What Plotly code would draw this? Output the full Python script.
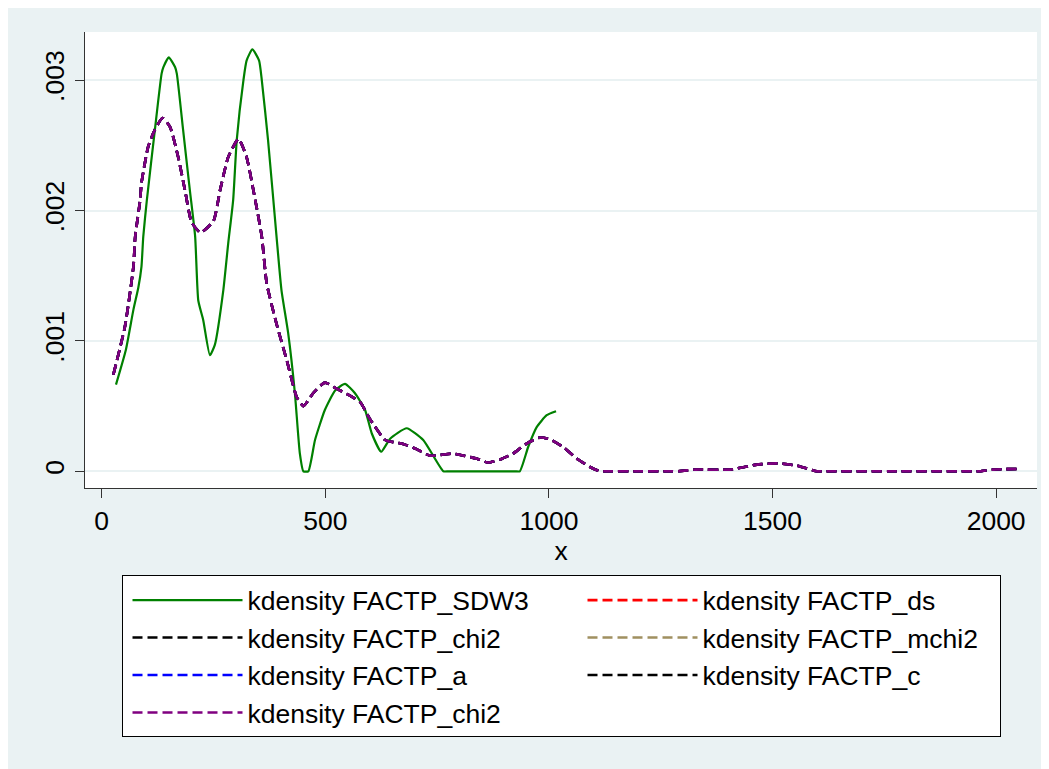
import plotly.graph_objects as go

# ---- data ----
sdw3_x = [32, 54, 71, 82, 89, 93, 101, 119, 134, 138, 150, 164, 168, 182, 197, 209, 216, 227, 242,
          253, 272, 283, 294, 302, 317, 324, 337, 352, 358, 372, 391, 402, 417, 432, 443, 451, 462,
          477, 499, 522, 544, 566, 589, 604, 625, 645, 682, 719, 764, 776, 850, 924, 935, 954, 973,
          995, 1016]
sdw3_y = [0.000665, 0.00093, 0.00124, 0.00141, 0.00157, 0.0018, 0.00208, 0.00262, 0.00305, 0.0031,
          0.003175, 0.0031, 0.00305, 0.00262, 0.00216, 0.0018, 0.00131, 0.00116, 0.00089,
          0.00097, 0.00139, 0.00175, 0.00208, 0.00254, 0.003, 0.00315, 0.003236, 0.00315, 0.003,
          0.00254, 0.0018, 0.00139, 0.00106, 0.0006, 0.00014, 0.0, 0.0,
          0.00024, 0.00047, 0.00062, 0.00067, 0.0006, 0.00047, 0.00029, 0.00015, 0.00025, 0.00033,
          0.00024, 0.0, 0.0, 0.0, 0.0, 0.0, 0.00019, 0.00034, 0.00043, 0.00046]

chi2_x = [26, 52, 71, 75, 86, 89, 104, 119, 136, 153, 171, 186, 201, 221, 250, 265, 283, 306, 324,
          339, 358, 369, 391, 414, 436, 451, 473, 499, 522, 555, 578, 600, 634, 674, 704, 734, 786,
          809, 838, 864, 891, 920, 950, 980, 1002, 1032, 1062, 1092, 1114, 1126, 1200, 1274, 1286,
          1330, 1405, 1465, 1509, 1554, 1599, 1611, 1780, 1952, 1964, 1994, 2046]
chi2_y = [0.00074, 0.00111, 0.00157, 0.0018, 0.00208, 0.00221, 0.00249, 0.00262, 0.00271, 0.00264,
          0.00241, 0.00216, 0.00191, 0.00183, 0.00192, 0.00216, 0.00241, 0.00255, 0.00241, 0.00216,
          0.0018, 0.00144, 0.00113, 0.00085, 0.00057, 0.0005, 0.0006, 0.00068, 0.00064, 0.00058,
          0.00053, 0.0004, 0.00024, 0.00021, 0.00017, 0.00012, 0.000136, 0.00012, 0.0000975,
          0.000067, 0.00009, 0.000136, 0.000213, 0.000259, 0.000246, 0.000186, 0.0000975, 0.000033,
          0.0, 0.0, 0.0, 0.0, 0.0, 0.000013, 0.000013, 0.000051, 0.000061, 0.000044, 0.0, 0.0, 0.0,
          0.0, 0.0, 0.000013, 0.000018]

# the other dashed estimates coincide with the chi2 curve
series_names = ["kdensity FACTP_SDW3", "kdensity FACTP_ds", "kdensity FACTP_chi2",
                "kdensity FACTP_mchi2", "kdensity FACTP_a", "kdensity FACTP_c",
                "kdensity FACTP_chi2"]

x_ticks = [0, 500, 1000, 1500, 2000]
x_tick_text = ["0", "500", "1000", "1500", "2000"]
y_ticks = [0, 0.001, 0.002, 0.003]
y_tick_text = ["0", ".001", ".002", ".003"]

FONT = "Liberation Sans, Arial, sans-serif"
FS = 26.5
BG = "#EAF2F3"
SM = 0.5

styles = [
    dict(color="#008000", dash="solid", width=2.2, shape="spline", smoothing=SM),
    dict(color="#FF0000", dash="10px,5px", width=2.6, shape="spline", smoothing=SM),
    dict(color="#000000", dash="10px,5px", width=2.6, shape="spline", smoothing=SM),
    dict(color="#A09060", dash="10px,5px", width=2.6, shape="spline", smoothing=SM),
    dict(color="#0000FF", dash="10px,5px", width=2.6, shape="spline", smoothing=SM),
    dict(color="#000000", dash="10px,5px", width=2.6, shape="spline", smoothing=SM),
    dict(color="#800080", dash="10px,5px", width=2.6, shape="spline", smoothing=SM),
]

fig = go.Figure()
for i, name in enumerate(series_names):
    if i == 0:
        xs, ys = sdw3_x, sdw3_y
    else:
        xs, ys = chi2_x, chi2_y
    lw = 292 if i in (1, 3, 5) else None
    fig.add_trace(go.Scatter(x=xs, y=ys, mode="lines", name=name, line=styles[i],
                             legendwidth=lw))

fig.update_layout(
    width=1041, height=761,
    margin=dict(l=77, r=12, t=24, b=281),
    paper_bgcolor=BG, plot_bgcolor="white",
    font=dict(family=FONT, size=FS, color="black"),
    showlegend=True,
    legend=dict(orientation="h", x=0.5, xanchor="center", y=-0.1916, yanchor="top",
                bgcolor="white", bordercolor="black", borderwidth=1,
                itemwidth=110, entrywidth=325, indentation=5,
                font=dict(family=FONT, size=FS), traceorder="normal"),
    xaxis=dict(range=[-37.3, 2091.4], tickvals=x_ticks, ticktext=x_tick_text,
               showgrid=False, zeroline=False, showline=True, linecolor="#333333", linewidth=1.3,
               ticks="outside", ticklen=9, tickwidth=1.3, tickcolor="#333333",
               title=dict(text="x", font=dict(family=FONT, size=FS), standoff=0),
               tickfont=dict(family=FONT, size=FS)),
    yaxis=dict(range=[-0.0001282, 0.003369], tickvals=y_ticks, ticktext=y_tick_text,
               tickangle=-90, showgrid=True, gridcolor=BG, gridwidth=1.5,
               zeroline=False, showline=True, linecolor="#333333", linewidth=1.3,
               ticks="outside", ticklen=9, tickwidth=1.3, tickcolor="#333333",
               tickfont=dict(family=FONT, size=FS)),
)

fig.write_html("out.html")
